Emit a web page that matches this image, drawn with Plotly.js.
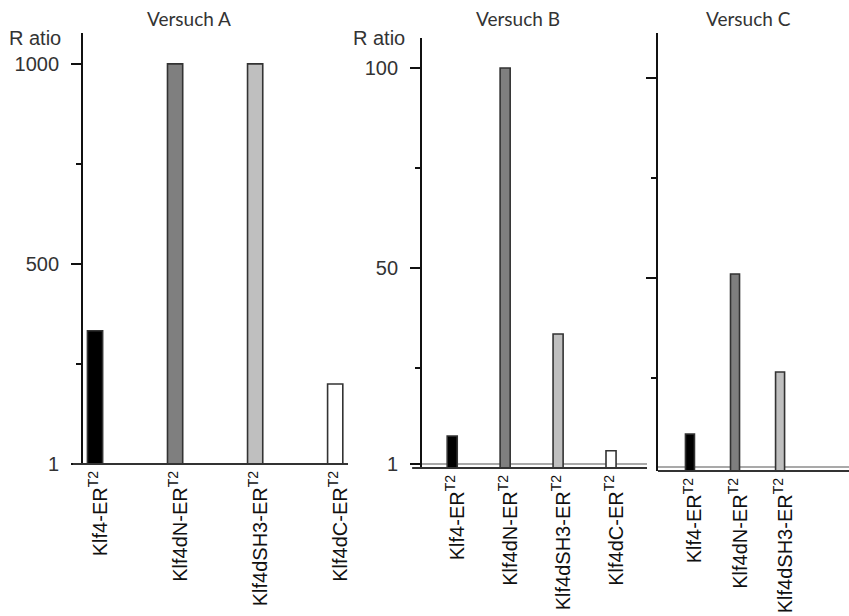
<!DOCTYPE html>
<html>
<head>
<meta charset="utf-8">
<script src="https://cdn.plot.ly/plotly-3.0.1.min.js"></script>
<style>html,body{margin:0;padding:0;background:#fff;}#chart{width:849px;height:616px;}</style>
</head>
<body>
<div id="chart"></div>
<script>
// ---- data ----
const catsA = ['Klf4-ER<sup>T2</sup>', 'Klf4dN-ER<sup>T2</sup>', 'Klf4dSH3-ER<sup>T2</sup>', 'Klf4dC-ER<sup>T2</sup>'];
const valsA = [333, 1000, 1000, 200];
const catsB = ['Klf4-ER<sup>T2</sup>', 'Klf4dN-ER<sup>T2</sup>', 'Klf4dSH3-ER<sup>T2</sup>', 'Klf4dC-ER<sup>T2</sup>'];
const valsB = [8, 100, 33.5, 4.3];
const catsC = ['Klf4-ER<sup>T2</sup>', 'Klf4dN-ER<sup>T2</sup>', 'Klf4dSH3-ER<sup>T2</sup>'];
const valsC = [11, 51, 26.5];
const titles = ['Versuch A', 'Versuch B', 'Versuch C'];
const yLabel = 'R atio';
const tickValsA = [1, 500, 1000];
const tickTextA = ['1', '500', '1000'];
const tickValsB = [1, 50, 100];
const tickTextB = ['1', '50', '100'];
const tickValsC = [50, 100];

// ---- style ----
const barColors = ['#000000', '#7f7f7f', '#bfbfbf', '#ffffff'];
const fontArial = 'Liberation Sans, Arial, sans-serif';
const fontTitle = 'Lato, Open Sans, sans-serif';

function barTrace(cats, vals, xa, ya, w) {
  return {
    type: 'bar', x: cats, y: vals, xaxis: xa, yaxis: ya, width: w,
    marker: {color: barColors.slice(0, cats.length), line: {color: '#333', width: 1.6}},
    hoverinfo: 'skip', showlegend: false
  };
}

const data = [
  barTrace(catsA, valsA, 'x', 'y', 0.19),
  barTrace(catsB, valsB, 'x2', 'y2', 0.19),
  barTrace(catsC, valsC, 'x3', 'y3', 0.2)
];

function xax(domain, range, anchor) {
  return {
    domain: domain, range: range, anchor: anchor, type: 'category',
    showline: false, showgrid: false, zeroline: false, ticks: '',
    tickangle: -90, ticklabelstandoff: 2, ticklabelshift: 5,
    tickfont: {family: fontArial, size: 20, color: '#111'}, fixedrange: true
  };
}
function yax(domain, range, anchor, tv, tt, minorVals, showLabels) {
  return {
    domain: domain, range: range, anchor: anchor,
    showline: true, linecolor: '#111', linewidth: 2,
    showgrid: false, zeroline: false,
    ticks: 'outside', ticklen: 10, tickwidth: 2, tickcolor: '#111',
    tickmode: 'array', tickvals: tv, ticktext: tt, showticklabels: showLabels,
    ticklabelstandoff: 8,
    minor: {tickmode: 'array', tickvals: minorVals, ticks: 'outside', ticklen: 5, tickwidth: 2, tickcolor: '#111'},
    tickfont: {family: fontArial, size: 20, color: '#333'}, fixedrange: true
  };
}

const layout = {
  width: 849, height: 616,
  margin: {l: 0, r: 0, t: 0, b: 0},
  paper_bgcolor: '#fff', plot_bgcolor: 'rgba(0,0,0,0)',
  showlegend: false,
  xaxis: xax([0.0978, 0.4099], [-0.15, 3.16], 'y'),
  yaxis: yax([0.2468, 0.9464], [0, 1077], 'x', tickValsA, tickTextA, [250, 750], true),
  xaxis2: xax([0.4971, 0.7621], [-0.57, 3.68], 'y2'),
  yaxis2: yax([0.2403, 0.9383], [0, 107.5], 'x2', tickValsB, tickTextB, [25, 75], true),
  xaxis3: xax([0.7750, 1.0], [-0.71, 3.53], 'y3'),
  yaxis3: yax([0.2354, 0.9464], [1.75, 111.25], 'x3', tickValsC, ['', ''], [25, 75], false),
  shapes: [
    {type: 'line', xref: 'x domain', yref: 'y domain', x0: -0.038, x1: 1, y0: 0, y1: 0, line: {color: '#333', width: 2}},
    {type: 'line', xref: 'x2 domain', yref: 'y2 domain', x0: -0.044, x1: 1, y0: 0, y1: 0, line: {color: '#333', width: 2}},
    {type: 'line', xref: 'x2 domain', yref: 'y2', x0: 0, x1: 1, y0: 1, y1: 1, layer: 'below', line: {color: '#555', width: 1.2}},
    {type: 'line', xref: 'x3 domain', yref: 'y3 domain', x0: 0, x1: 1, y0: 0, y1: 0, line: {color: '#333', width: 2}},
    {type: 'line', xref: 'x3 domain', yref: 'y3', x0: 0, x1: 1, y0: 2.75, y1: 2.75, layer: 'below', line: {color: '#555', width: 1.2}}
  ],
  annotations: [
    {text: titles[0], xref: 'paper', yref: 'paper', x: 189/849, y: 1 - 18/616, xanchor: 'center', yanchor: 'middle', showarrow: false, font: {family: fontTitle, size: 19, color: '#333'}},
    {text: titles[1], xref: 'paper', yref: 'paper', x: 518/849, y: 1 - 18/616, xanchor: 'center', yanchor: 'middle', showarrow: false, font: {family: fontTitle, size: 19, color: '#333'}},
    {text: titles[2], xref: 'paper', yref: 'paper', x: 748/849, y: 1 - 18/616, xanchor: 'center', yanchor: 'middle', showarrow: false, font: {family: fontTitle, size: 19, color: '#333'}},
    {text: yLabel, xref: 'paper', yref: 'paper', x: 63/849, y: 1 - 38/616, xanchor: 'right', yanchor: 'middle', showarrow: false, font: {family: fontArial, size: 20, color: '#333'}},
    {text: yLabel, xref: 'paper', yref: 'paper', x: 407/849, y: 1 - 38/616, xanchor: 'right', yanchor: 'middle', showarrow: false, font: {family: fontArial, size: 20, color: '#333'}}
  ]
};

Plotly.newPlot('chart', data, layout, {displayModeBar: false, staticPlot: true});
</script>
</body>
</html>
